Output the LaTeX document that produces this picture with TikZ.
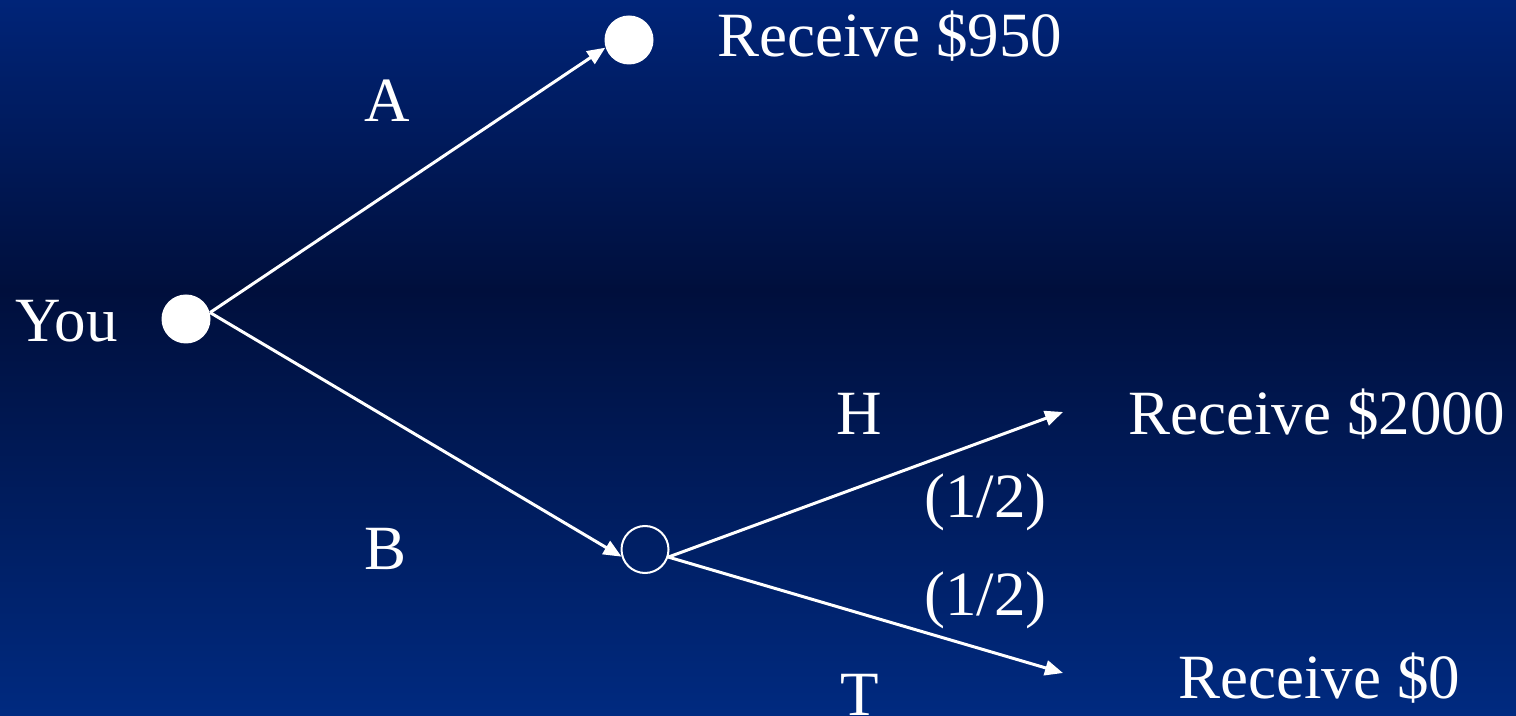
\documentclass[tikz,border=0pt]{standalone}
\usepackage{fontspec}
\setmainfont{Liberation Serif}
\usetikzlibrary{arrows.meta}
\definecolor{bgtop}{RGB}{0,36,120}
\definecolor{bgmid}{RGB}{0,15,60}
\definecolor{bgbot}{RGB}{0,42,128}
\tikzset{
  lbl/.style={anchor=base west,inner sep=0pt,text=white,font=\fontsize{31.5}{38}\selectfont},
  dot/.style={circle,fill=white,minimum size=24.5pt,inner sep=0pt},
  chance/.style={circle,draw=white,line width=1pt,minimum size=23.5pt,inner sep=0pt},
  edge/.style={draw=white,line width=1.5pt,-{Triangle[length=9pt,width=7.5pt]}},
}
\begin{document}
\begin{tikzpicture}[x=0.5pt,y=-0.5pt]
\useasboundingbox (0,0) rectangle (1516,716);
\shade[top color=bgtop,bottom color=bgmid] (0,0) rectangle (1516,291);
\shade[top color=bgmid,bottom color=bgbot] (0,289) rectangle (1516,716);
\node[dot] (you) at (186,319) {};
\node[dot] (top) at (629,40) {};
\node[chance] (c) at (645,549.5) {};
\coordinate (hend) at (1063,412);
\coordinate (tend) at (1063,673);
\draw[edge] (you.15) -- (top.198);
\draw[edge] (you.15) -- (c.197);
\draw[edge] (c.-18) -- (hend);
\draw[edge] (c.-18) -- (tend);
\node[lbl] (lyou) at (15,342) {You};
\node[lbl] (la) at (364,122) {A};
\node[lbl] (lb) at (364,569) {B};
\node[lbl] (lh) at (836,435) {H};
\node[lbl] (lt) at (840,715) {T};
\node[lbl] (p1) at (924,517) {(1/2)};
\node[lbl] (p2) at (924,615) {(1/2)};
\node[lbl] (r1) at (717,57) {Receive \$950};
\node[lbl] (r2) at (1128,435) {Receive \$2000};
\node[lbl] (r3) at (1178,698) {Receive \$0};
\end{tikzpicture}
\end{document}
